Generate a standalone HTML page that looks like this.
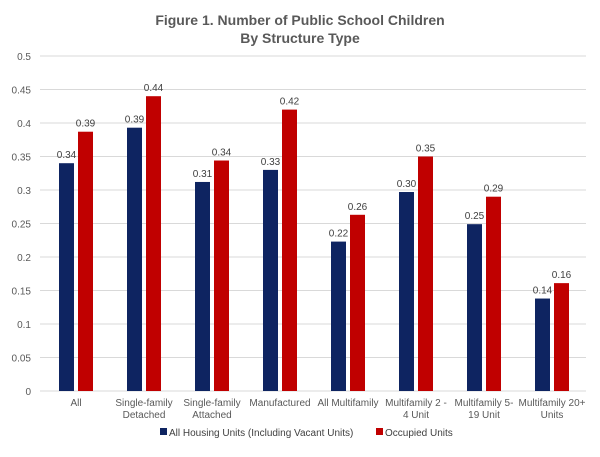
<!DOCTYPE html>
<html><head><meta charset="utf-8"><style>
body{margin:0;background:#fff;font-family:"Liberation Sans",Arial,sans-serif}
</style></head><body>
<svg width="600" height="452" xmlns="http://www.w3.org/2000/svg">
<text x="300" y="25" text-anchor="middle" font-size="14" font-weight="bold" fill="#595959">Figure 1. Number of Public School Children</text>
<text x="300" y="43" text-anchor="middle" font-size="14" font-weight="bold" fill="#595959">By Structure Type</text>
<g id="grid"></g><g id="bars"></g><g id="labels"></g>
<g>
<rect x="160" y="428" width="7" height="7" fill="#0e2461"/>
<text x="169" y="436" font-size="10" fill="#404040">All Housing Units (Including Vacant Units)</text>
<rect x="376" y="428" width="7" height="7" fill="#c00000"/>
<text x="385" y="436" font-size="10" fill="#404040">Occupied Units</text>
</g>
</svg>
<script>
const categories=[["All"],["Single-family","Detached"],["Single-family","Attached"],["Manufactured"],["All Multifamily"],["Multifamily 2 -","4 Unit"],["Multifamily 5-","19 Unit"],["Multifamily 20+","Units"]];
const allUnits=[0.34,0.393,0.312,0.33,0.223,0.297,0.249,0.138];
const occupied=[0.387,0.44,0.344,0.42,0.263,0.35,0.29,0.161];
const allLabels=["0.34","0.39","0.31","0.33","0.22","0.30","0.25","0.14"];
const occLabels=["0.39","0.44","0.34","0.42","0.26","0.35","0.29","0.16"];
const yTicks=["0","0.05","0.1","0.15","0.2","0.25","0.3","0.35","0.4","0.45","0.5"];
const NS="http://www.w3.org/2000/svg";
const y0=391,y1=56,vmax=0.5,left=42,right=586;
const ys=v=>y0-(v/vmax)*(y0-y1);
const cw=(right-left)/categories.length;
const xc=i=>left+cw*(i+0.5);
function mk(t,a,p){const e=document.createElementNS(NS,t);for(const k in a)e.setAttribute(k,a[k]);p.appendChild(e);return e;}
const grid=document.getElementById('grid'),bars=document.getElementById('bars'),labels=document.getElementById('labels');
yTicks.forEach(t=>{const y=ys(parseFloat(t));
const l=mk('line',{x1:left-2,x2:right,y1:y,y2:y,stroke:'#d9d9d9','stroke-width':1},grid);


const tx=mk('text',{x:31,y:y+4,'text-anchor':'end','font-size':10,fill:'#595959'},grid);tx.textContent=t;

});
const bw=15,gap=4;
categories.forEach((c,i)=>{const cx=xc(i);
[[allUnits,'#0e2461',cx-gap/2-bw,allLabels],[occupied,'#c00000',cx+gap/2,occLabels]].forEach(([arr,col,x,lab],s)=>{
const y=ys(arr[i]);
const r=mk('rect',{x:x,y:y,width:bw,height:y0-y,fill:col},bars);


const t=mk('text',{x:x+bw/2,y:y-5,'text-anchor':'middle','font-size':10,fill:'#404040'},labels);t.textContent=lab[i];

});
c.forEach((ln,j)=>{const t=mk('text',{x:cx,y:406+j*12,'text-anchor':'middle','font-size':10,fill:'#595959'},labels);t.textContent=ln;

});
});
</script>
</body></html>
